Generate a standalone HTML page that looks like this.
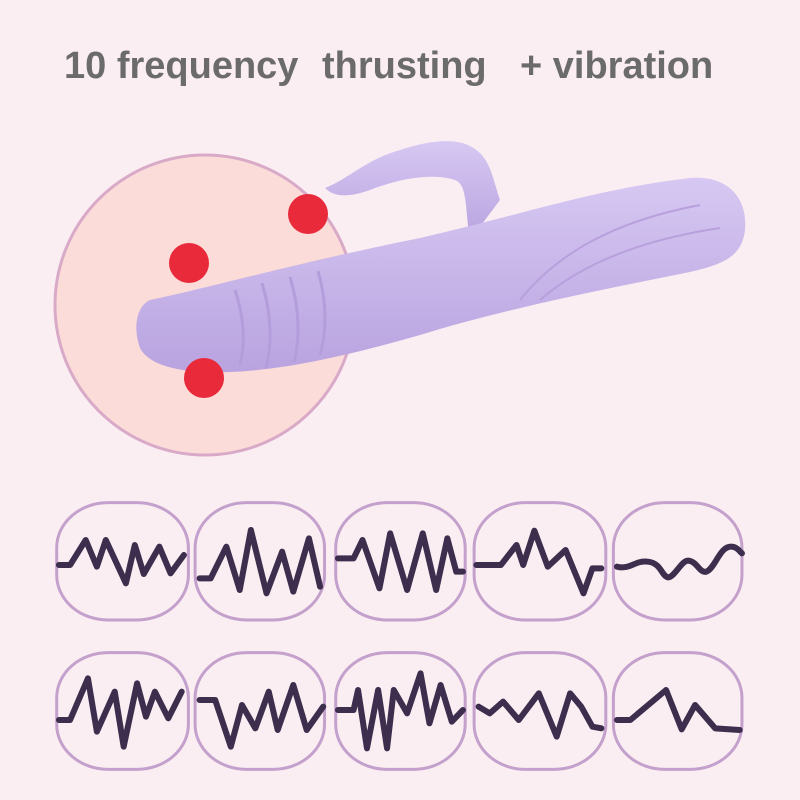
<!DOCTYPE html>
<html><head><meta charset="utf-8"><style>
html,body{margin:0;padding:0;}
body{width:800px;height:800px;background:#fbeef2;position:relative;overflow:hidden;font-family:"Liberation Sans",sans-serif;}
.t{position:absolute;top:44px;font-size:38px;font-weight:bold;color:#6b6b6b;white-space:pre;line-height:44px;}
svg{position:absolute;}
</style></head><body>
<div class="t" style="left:64px">10 frequency</div>
<div class="t" style="left:322px">thrusting</div>
<div class="t" style="left:520px">+ vibration</div>
<svg width="800" height="500" style="left:0;top:0" viewBox="0 0 800 500">
 <defs>
  <linearGradient id="g" x1="0" y1="0" x2="0" y2="1">
   <stop offset="0" stop-color="#d6c8f2"/><stop offset="1" stop-color="#b9a3e0"/>
  </linearGradient>
 </defs>
 <circle cx="205" cy="305" r="150" fill="#fcdcd8" stroke="#d9aac8" stroke-width="3"/>
 <path d="M325,188 C350,178 365,160 400,150 C430,140 455,138 470,146 C490,156 492,176 500,200 L470,240 C465,210 468,185 455,180 C430,172 395,180 370,190 C350,197 335,198 325,188 Z" fill="url(#g)"/>
 <path d="M150,300 C200,290 300,262 420,238 C520,215 600,188 690,178 C730,175 748,200 745,230 C742,258 720,265 690,272 C600,290 500,310 420,335 C340,358 280,370 230,372 C190,374 150,368 140,348 C132,325 138,305 150,300 Z" fill="url(#g)"/>
 <path d="M520,300 C560,250 620,220 700,205 M540,300 C580,265 640,240 720,228" stroke="#b7a0dc" stroke-width="2" fill="none"/>
 <g stroke="#b49ddb" stroke-width="3" fill="none">
  <path d="M235,290 C245,320 245,345 240,365"/><path d="M262,283 C272,315 272,345 266,368"/>
  <path d="M290,277 C300,310 300,340 294,362"/><path d="M318,271 C328,305 326,335 320,355"/>
 </g>
 <circle cx="308" cy="214" r="20" fill="#e82a3a"/>
 <circle cx="189" cy="263" r="20" fill="#e82a3a"/>
 <circle cx="204" cy="378" r="20" fill="#e82a3a"/>
</svg>
<svg width="700" height="280" style="left:50px;top:500px" viewBox="0 0 1568 840" preserveAspectRatio="none">
 <g fill="none" stroke="#c4a0cc" stroke-width="3">
  <rect x="15" y="8" width="295" height="352" rx="115" ry="135" vector-effect="non-scaling-stroke"/>
  <rect x="325" y="8" width="290" height="352" rx="115" ry="135" vector-effect="non-scaling-stroke"/>
  <rect x="640" y="8" width="290" height="352" rx="115" ry="135" vector-effect="non-scaling-stroke"/>
  <rect x="950" y="8" width="295" height="352" rx="115" ry="135" vector-effect="non-scaling-stroke"/>
  <rect x="1262" y="8" width="288" height="352" rx="115" ry="135" vector-effect="non-scaling-stroke"/>
  <rect x="15" y="458" width="295" height="350" rx="115" ry="135" vector-effect="non-scaling-stroke"/>
  <rect x="325" y="458" width="290" height="350" rx="115" ry="135" vector-effect="non-scaling-stroke"/>
  <rect x="640" y="458" width="290" height="350" rx="115" ry="135" vector-effect="non-scaling-stroke"/>
  <rect x="950" y="458" width="295" height="350" rx="115" ry="135" vector-effect="non-scaling-stroke"/>
  <rect x="1262" y="458" width="288" height="350" rx="115" ry="135" vector-effect="non-scaling-stroke"/>
 </g>
 <g fill="none" stroke="#3d2e4e" stroke-width="6" stroke-linejoin="round" stroke-linecap="round">
  <polyline vector-effect="non-scaling-stroke" points="20,195 45,195 80,120 105,200 125,120 170,250 190,135 210,222 245,140 270,220 300,165"/>
  <polyline vector-effect="non-scaling-stroke" points="335,235 360,235 395,140 425,270 450,90 485,280 520,155 545,275 580,115 605,260"/>
  <polyline vector-effect="non-scaling-stroke" points="645,175 680,175 700,120 738,265 762,100 800,270 835,100 865,270 890,115 910,215 925,215"/>
  <polyline vector-effect="non-scaling-stroke" points="955,195 1010,195 1045,135 1060,195 1085,92 1115,200 1155,150 1195,280 1215,205 1235,205"/>
  <path vector-effect="non-scaling-stroke" d="M1270,200 C1300,210 1310,180 1340,185 C1370,190 1370,230 1385,232 C1400,230 1415,180 1430,182 C1450,185 1455,220 1470,215 C1490,205 1500,140 1525,140 C1540,140 1545,155 1550,160"/>
  <polyline vector-effect="non-scaling-stroke" points="20,660 45,660 85,535 105,695 145,575 165,740 195,550 215,650 235,575 265,655 295,575"/>
  <polyline vector-effect="non-scaling-stroke" points="335,600 370,600 405,740 430,615 460,685 490,575 510,690 545,555 575,690 612,620"/>
  <polyline vector-effect="non-scaling-stroke" points="645,630 680,630 690,570 710,745 735,570 755,745 770,570 800,640 830,520 850,670 875,555 900,665 925,630"/>
  <polyline vector-effect="non-scaling-stroke" points="960,620 985,640 1015,605 1050,660 1095,580 1135,710 1165,580 1190,620 1215,680 1235,685"/>
  <polyline vector-effect="non-scaling-stroke" points="1270,660 1300,660 1380,570 1415,688 1445,615 1490,685 1545,690"/>
 </g>
</svg>
</body></html>
